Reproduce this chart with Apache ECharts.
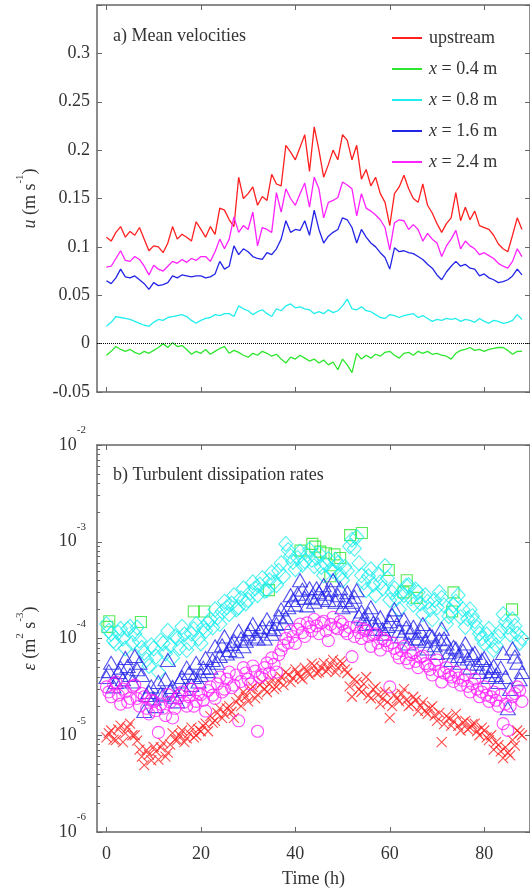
<!DOCTYPE html>
<html>
<head>
<meta charset="utf-8">
<script src="https://cdn.jsdelivr.net/npm/echarts@6/dist/echarts.min.js"></script>
<style>
  html, body { margin: 0; padding: 0; background: #fff; }
  #chart { width: 530px; height: 895px; }
</style>
</head>
<body>
<div id="chart"></div>
<script>
// time axis (h)
var hours = [0,1,2,3,4,5,6,7,8,9,10,11,12,13,14,15,16,17,18,19,20,21,22,23,24,25,26,27,28,29,30,31,32,33,34,35,36,37,38,39,40,41,42,43,44,45,46,47,48,49,50,51,52,53,54,55,56,57,58,59,60,61,62,63,64,65,66,67,68,69,70,71,72,73,74,75,76,77,78,79,80,81,82,83,84,85,86,87,88];
var halfHours = [0.5,1.5,2.5,3.5,4.5,5.5,6.5,7.5,8.5,9.5,10.5,11.5,12.5,13.5,14.5,15.5,16.5,17.5,18.5,19.5,20.5,21.5,22.5,23.5,24.5,25.5,26.5,27.5,28.5,29.5,30.5,31.5,32.5,33.5,34.5,35.5,36.5,37.5,38.5,39.5,40.5,41.5,42.5,43.5,44.5,45.5,46.5,47.5,48.5,49.5,50.5,51.5,52.5,53.5,54.5,55.5,56.5,57.5,58.5,59.5,60.5,61.5,62.5,63.5,64.5,65.5,66.5,67.5,68.5,69.5,70.5,71.5,72.5,73.5,74.5,75.5,76.5,77.5,78.5,79.5,80.5,81.5,82.5,83.5,84.5,85.5,86.5,87.5];
var seriesNames = ['upstream', 'x = 0.4 m', 'x = 0.8 m', 'x = 1.6 m', 'x = 2.4 m'];
var timeTicks = [0, 20, 40, 60, 80];

// a) mean velocities u (m/s)
var uUpstream = [0.110,0.106,0.115,0.121,0.110,0.116,0.112,0.120,0.108,0.096,0.101,0.100,0.094,0.104,0.121,0.108,0.113,0.110,0.106,0.126,0.118,0.110,0.121,0.113,0.140,0.138,0.128,0.121,0.172,0.150,0.155,0.162,0.143,0.152,0.148,0.175,0.165,0.163,0.205,0.198,0.190,0.203,0.216,0.178,0.224,0.200,0.172,0.185,0.200,0.190,0.216,0.210,0.190,0.205,0.170,0.180,0.163,0.172,0.155,0.146,0.122,0.155,0.162,0.174,0.160,0.150,0.146,0.165,0.143,0.135,0.124,0.115,0.124,0.130,0.156,0.127,0.141,0.128,0.137,0.122,0.120,0.118,0.112,0.103,0.098,0.095,0.112,0.130,0.118];
var u04 = [-0.012,-0.008,-0.003,-0.006,-0.008,-0.006,-0.009,-0.011,-0.008,-0.010,-0.007,-0.004,0.000,-0.004,0.001,-0.003,-0.002,-0.006,-0.011,-0.008,-0.010,-0.006,-0.011,-0.008,-0.005,-0.003,-0.010,-0.007,-0.009,-0.012,-0.014,-0.010,-0.012,-0.008,-0.010,-0.013,-0.011,-0.016,-0.020,-0.014,-0.016,-0.012,-0.015,-0.018,-0.016,-0.020,-0.017,-0.022,-0.019,-0.027,-0.016,-0.022,-0.030,-0.010,-0.016,-0.012,-0.015,-0.011,-0.013,-0.009,-0.008,-0.012,-0.015,-0.010,-0.009,-0.012,-0.008,-0.010,-0.008,-0.011,-0.010,-0.012,-0.013,-0.016,-0.010,-0.007,-0.006,-0.004,-0.007,-0.006,-0.008,-0.006,-0.005,-0.004,-0.004,-0.007,-0.011,-0.008,-0.008];
var u08 = [0.018,0.022,0.028,0.027,0.026,0.025,0.023,0.021,0.019,0.018,0.022,0.025,0.024,0.027,0.028,0.029,0.030,0.028,0.024,0.021,0.024,0.026,0.027,0.030,0.029,0.031,0.031,0.028,0.039,0.036,0.034,0.030,0.033,0.035,0.031,0.028,0.036,0.034,0.039,0.041,0.037,0.038,0.036,0.035,0.031,0.033,0.031,0.035,0.032,0.034,0.039,0.046,0.036,0.035,0.038,0.034,0.033,0.030,0.027,0.026,0.030,0.029,0.027,0.029,0.030,0.031,0.027,0.029,0.026,0.023,0.025,0.024,0.026,0.025,0.026,0.023,0.025,0.024,0.022,0.026,0.023,0.021,0.024,0.023,0.021,0.022,0.024,0.030,0.025];
var u16 = [0.065,0.062,0.068,0.077,0.069,0.068,0.070,0.066,0.062,0.056,0.063,0.060,0.061,0.063,0.070,0.068,0.071,0.070,0.069,0.070,0.070,0.068,0.069,0.072,0.085,0.077,0.080,0.101,0.092,0.098,0.095,0.090,0.088,0.087,0.094,0.092,0.098,0.108,0.127,0.115,0.118,0.117,0.127,0.112,0.138,0.118,0.104,0.111,0.115,0.118,0.130,0.128,0.120,0.104,0.118,0.110,0.104,0.100,0.094,0.089,0.077,0.099,0.095,0.096,0.094,0.093,0.090,0.087,0.082,0.078,0.071,0.066,0.074,0.080,0.085,0.080,0.082,0.078,0.077,0.070,0.072,0.068,0.066,0.063,0.064,0.066,0.070,0.077,0.071];
var u24 = [0.079,0.080,0.088,0.096,0.086,0.085,0.090,0.087,0.080,0.071,0.081,0.077,0.075,0.080,0.085,0.083,0.087,0.084,0.088,0.086,0.090,0.090,0.085,0.095,0.108,0.098,0.108,0.131,0.115,0.122,0.118,0.136,0.101,0.120,0.118,0.115,0.156,0.136,0.160,0.150,0.143,0.155,0.166,0.141,0.172,0.160,0.130,0.146,0.148,0.151,0.167,0.164,0.160,0.132,0.155,0.140,0.137,0.133,0.128,0.120,0.097,0.125,0.128,0.127,0.118,0.123,0.118,0.106,0.114,0.108,0.104,0.090,0.101,0.108,0.117,0.098,0.106,0.101,0.098,0.092,0.094,0.091,0.088,0.083,0.080,0.078,0.085,0.098,0.090];
var uTicks = [-0.05, 0, 0.05, 0.1, 0.15, 0.2, 0.25, 0.3];

// b) dissipation rates eps (m2/s3), on the hour and on the half hour
var epsUpstream = [9.5e-6,1.12e-5,8.9e-6,1.26e-5,1.05e-5,1.32e-5,1.0e-5,7.1e-6,4.9e-6,6.3e-6,7.6e-6,5.6e-6,8.3e-6,6.6e-6,1.05e-5,8.9e-6,1.12e-5,9.3e-6,1.2e-5,1.0e-5,1.1e-5,1.32e-5,1.58e-5,1.41e-5,1.9e-5,1.66e-5,2.0e-5,1.51e-5,2.4e-5,2.8e-5,2.24e-5,3.16e-5,2.63e-5,3.55e-5,2.8e-5,3.8e-5,3.16e-5,4.0e-5,4.5e-5,3.55e-5,4.8e-5,4.0e-5,5.0e-5,4.2e-5,5.2e-5,4.5e-5,5.6e-5,4.8e-5,6.0e-5,5.0e-5,5.5e-5,4.4e-5,2.5e-5,3.55e-5,2.8e-5,4.0e-5,2.4e-5,3.16e-5,2.1e-5,2.8e-5,1.51e-5,2.63e-5,2.24e-5,3.0e-5,2.0e-5,2.5e-5,1.78e-5,2.2e-5,1.66e-5,2.0e-5,1.41e-5,8.5e-6,1.58e-5,1.26e-5,1.66e-5,1.12e-5,1.41e-5,1.2e-5,1.32e-5,1.0e-5,1.12e-5,8.9e-6,7.1e-6,7.9e-6,5.8e-6,6.6e-6,8.9e-6,1.12e-5,1.0e-5];
var epsUpstreamHalf = [1.05e-5,9.0e-6,1.15e-5,8.5e-6,1.2e-5,1.0e-5,8.8e-6,6.0e-6,7.0e-6,5.5e-6,6.8e-6,7.5e-6,6.0e-6,8.0e-6,9.0e-6,1.0e-5,8.5e-6,1.05e-5,9.5e-6,1.15e-5,1.25e-5,1.1e-5,1.35e-5,1.7e-5,1.5e-5,1.9e-5,1.75e-5,2.2e-5,2.0e-5,2.5e-5,3.0e-5,2.4e-5,3.3e-5,3.0e-5,3.4e-5,3.0e-5,3.6e-5,3.3e-5,4.2e-5,3.9e-5,4.4e-5,3.8e-5,4.6e-5,5.5e-5,4.4e-5,5.0e-5,4.6e-5,5.4e-5,4.5e-5,5.8e-5,4.8e-5,3.2e-5,3.8e-5,3.0e-5,3.4e-5,2.6e-5,3.0e-5,2.6e-5,2.4e-5,2.2e-5,2.0e-5,2.4e-5,2.7e-5,2.3e-5,2.1e-5,2.3e-5,2.0e-5,1.8e-5,1.9e-5,1.6e-5,1.7e-5,1.3e-5,1.5e-5,1.4e-5,1.25e-5,1.35e-5,1.15e-5,1.3e-5,1.1e-5,1.2e-5,9.5e-6,1.0e-5,8.5e-6,6.8e-6,7.5e-6,6.2e-6,7.8e-6,1.05e-5];
var eps04Time = [0.2,0.6,7.3,18.5,20.7,34.4,41.1,43.6,44.2,45.3,46.5,47.4,48.3,49.5,51.6,54.1,59.8,62.9,63.6,65.7,73.2,73.5,85.9];
var eps04 = [1.32e-4,1.51e-4,1.48e-4,1.9e-4,1.9e-4,3.16e-4,8.1e-4,9.5e-4,8.9e-4,7.9e-4,7.6e-4,4.4e-4,7.4e-4,6.8e-4,1.17e-3,1.23e-3,5.1e-4,3.0e-4,4.0e-4,2.63e-4,1.9e-4,3.0e-4,2.0e-4];
var eps08 = [1.41e-4,1.12e-4,8.9e-5,1.26e-4,7.9e-5,1.32e-4,1.12e-4,9.5e-5,7.1e-5,5.2e-5,7.9e-5,4.5e-5,8.9e-5,1.2e-4,6.3e-5,1.0e-4,1.32e-4,7.6e-5,1.12e-4,1.41e-4,8.9e-5,1.2e-4,1.58e-4,2.0e-4,1.41e-4,2.4e-4,1.78e-4,2.8e-4,2.1e-4,3.3e-4,2.5e-4,3.8e-4,2.8e-4,4.2e-4,3.16e-4,4.8e-4,3.55e-4,6.0e-4,9.5e-4,7.1e-4,5.2e-4,7.9e-4,6.3e-4,8.3e-4,5.6e-4,7.6e-4,4.5e-4,6.6e-4,5.0e-4,6.0e-4,4.0e-4,5.0e-4,1.05e-3,1.12e-3,4.5e-4,3.16e-4,5.2e-4,2.8e-4,3.8e-4,5.6e-4,2.5e-4,3.3e-4,2.0e-4,2.8e-4,3.55e-4,2.24e-4,3.0e-4,1.78e-4,2.4e-4,1.58e-4,2.1e-4,2.63e-4,1.41e-4,1.9e-4,2.4e-4,1.66e-4,1.32e-4,2.0e-4,1.51e-4,1.12e-4,8.9e-5,1.26e-4,7.6e-5,1.05e-4,1.78e-4,1.32e-4,1.58e-4,1.12e-4,1.0e-4];
var eps08Half = [1.2e-4,9.5e-5,1.15e-4,1.0e-4,1.25e-4,9.0e-5,1.3e-4,8.0e-5,6.0e-5,8.5e-5,6.5e-5,9.5e-5,7.0e-5,8.5e-5,1.05e-4,8.0e-5,1.1e-4,9.0e-5,1.25e-4,1.0e-4,1.3e-4,1.45e-4,1.3e-4,1.65e-4,1.9e-4,2.1e-4,2.3e-4,2.0e-4,2.6e-4,2.3e-4,3.0e-4,3.3e-4,3.6e-4,3.1e-4,4.0e-4,3.8e-4,5.0e-4,4.4e-4,8.2e-4,6.2e-4,6.8e-4,5.8e-4,7.3e-4,6.5e-4,6.8e-4,5.5e-4,5.8e-4,5.2e-4,6.5e-4,4.6e-4,5.5e-4,9.0e-4,8.5e-4,6.0e-4,3.8e-4,4.4e-4,3.6e-4,4.6e-4,3.3e-4,4.2e-4,3.0e-4,2.6e-4,3.0e-4,3.5e-4,2.6e-4,3.2e-4,2.3e-4,2.8e-4,2.0e-4,2.5e-4,3.0e-4,2.2e-4,1.7e-4,2.2e-4,2.8e-4,2.0e-4,1.6e-4,1.7e-4,1.3e-4,1.0e-4,1.1e-4,9.5e-5,8.5e-5,1.2e-4,1.5e-4,1.1e-4,1.35e-4,9.0e-5];
var eps16 = [4.0e-5,5.6e-5,3.55e-5,5.0e-5,6.3e-5,4.2e-5,6.6e-5,5.6e-5,1.78e-5,2.8e-5,2.4e-5,3.55e-5,2.63e-5,6.0e-5,3.16e-5,2.24e-5,4.0e-5,5.0e-5,3.3e-5,5.6e-5,4.2e-5,6.3e-5,5.0e-5,8.3e-5,6.6e-5,1.05e-4,7.6e-5,9.5e-5,1.2e-4,8.3e-5,1.12e-4,1.41e-4,1.0e-4,1.32e-4,1.58e-4,1.12e-4,1.41e-4,2.0e-4,1.66e-4,2.8e-4,2.24e-4,4.0e-4,2.63e-4,3.3e-4,2.4e-4,3.0e-4,3.55e-4,2.5e-4,4.0e-4,2.8e-4,2.1e-4,3.0e-4,2.4e-4,3.16e-4,1.9e-4,1.41e-4,2.1e-4,1.26e-4,1.66e-4,1.12e-4,1.51e-4,2.0e-4,1.2e-4,1.58e-4,8.9e-5,1.32e-4,1.0e-4,1.41e-4,7.9e-5,1.05e-4,7.1e-5,1.26e-4,8.9e-5,6.0e-5,7.9e-5,5.6e-5,8.9e-5,5.0e-5,7.1e-5,4.5e-5,6.3e-5,4.0e-5,5.2e-5,3.55e-5,7.1e-5,1.9e-5,7.9e-5,5.6e-5,4.5e-5];
var eps16Half = [4.6e-5,3.2e-5,4.5e-5,3.8e-5,5.2e-5,3.6e-5,4.8e-5,4.2e-5,2.6e-5,3.2e-5,2.0e-5,2.7e-5,3.8e-5,2.9e-5,2.5e-5,3.6e-5,3.0e-5,4.4e-5,4.0e-5,3.6e-5,5.0e-5,4.6e-5,6.0e-5,5.6e-5,8.5e-5,7.0e-5,8.8e-5,7.4e-5,1.0e-4,9.5e-5,1.25e-4,1.05e-4,1.2e-4,1.0e-4,1.3e-4,1.25e-4,1.7e-4,1.45e-4,2.1e-4,2.5e-4,2.9e-4,3.2e-4,2.2e-4,2.7e-4,3.3e-4,2.6e-4,2.9e-4,3.2e-4,2.4e-4,3.3e-4,2.5e-4,2.2e-4,2.7e-4,1.7e-4,1.6e-4,1.8e-4,1.45e-4,1.4e-4,1.25e-4,1.35e-4,1.75e-4,1.4e-4,1.05e-4,1.3e-4,1.15e-4,1.0e-4,1.2e-4,9.5e-5,1.1e-4,8.5e-5,9.8e-5,1.0e-4,7.2e-5,8.2e-5,6.6e-5,7.5e-5,6.2e-5,6.8e-5,5.5e-5,6.0e-5,5.0e-5,4.6e-5,4.2e-5,5.0e-5,4.0e-5,3.0e-5,6.5e-5,3.8e-5];
var eps24 = [3.16e-5,2.5e-5,3.55e-5,2.1e-5,2.8e-5,2.4e-5,3.3e-5,2.0e-5,2.5e-5,1.66e-5,2.24e-5,1.07e-5,1.9e-5,2.63e-5,1.51e-5,2.4e-5,2.8e-5,2.0e-5,3.0e-5,2.24e-5,2.63e-5,1.78e-5,3.16e-5,2.4e-5,4.0e-5,3.0e-5,4.5e-5,3.3e-5,1.41e-5,5.0e-5,3.8e-5,5.2e-5,1.1e-5,4.2e-5,5.6e-5,6.3e-5,4.5e-5,7.6e-5,1.0e-4,1.2e-4,8.9e-5,1.41e-4,1.05e-4,1.32e-4,1.58e-4,1.12e-4,1.51e-4,9.5e-5,1.66e-4,1.26e-4,1.41e-4,1.12e-4,6.5e-5,1.32e-4,1.0e-4,1.2e-4,8.3e-5,1.12e-4,7.6e-5,9.5e-5,3.16e-5,7.9e-5,6.3e-5,8.3e-5,5.6e-5,7.1e-5,5.0e-5,6.6e-5,5.2e-5,4.2e-5,6.0e-5,3.55e-5,5.0e-5,4.0e-5,4.5e-5,3.3e-5,4.2e-5,2.8e-5,3.8e-5,2.5e-5,3.16e-5,2.24e-5,2.8e-5,2.0e-5,1.32e-5,1.12e-5,2.5e-5,3.16e-5,2.24e-5];
var eps24Half = [2.8e-5,3.4e-5,2.6e-5,3.0e-5,2.2e-5,3.2e-5,2.4e-5,2.7e-5,1.9e-5,2.3e-5,1.8e-5,2.1e-5,1.6e-5,2.2e-5,1.9e-5,2.6e-5,2.2e-5,2.5e-5,2.0e-5,2.7e-5,2.3e-5,2.9e-5,2.6e-5,3.4e-5,2.8e-5,3.8e-5,3.1e-5,4.2e-5,3.6e-5,4.4e-5,3.4e-5,4.6e-5,4.0e-5,5.0e-5,4.4e-5,5.4e-5,6.8e-5,8.5e-5,9.0e-5,1.05e-4,1.25e-4,1.15e-4,1.45e-4,1.2e-4,1.35e-4,1.45e-4,1.2e-4,1.4e-4,1.3e-4,1.5e-4,1.2e-4,1.3e-4,1.05e-4,1.15e-4,1.25e-4,1.05e-4,1.1e-4,9.0e-5,1.0e-4,8.5e-5,9.0e-5,7.0e-5,7.5e-5,6.2e-5,6.8e-5,5.8e-5,6.4e-5,5.5e-5,4.8e-5,5.4e-5,4.6e-5,4.4e-5,4.2e-5,3.6e-5,3.9e-5,3.7e-5,3.2e-5,3.4e-5,3.0e-5,2.8e-5,2.6e-5,2.5e-5,2.3e-5,2.6e-5,2.1e-5,2.0e-5,2.7e-5,2.9e-5];
var epsMinorTicks = [2e-6,3e-6,4e-6,5e-6,6e-6,7e-6,8e-6,9e-6,2e-5,3e-5,4e-5,5e-5,6e-5,7e-5,8e-5,9e-5,2e-4,3e-4,4e-4,5e-4,6e-4,7e-4,8e-4,9e-4,2e-3,3e-3,4e-3,5e-3,6e-3,7e-3,8e-3,9e-3];

var colors = ['#ff2020', '#2ee62e', '#22eeee', '#2424e8', '#ff22ff'];
var serif = 'Liberation Serif';
var axisCol = '#666';
var textCol = '#333';

function pairs(xs, ys) {
  return xs.map(function (t, i) { return [t, ys[i]]; });
}

var chart = echarts.init(document.getElementById('chart'));

function timeAxis(grid, pos, labels) {
  var ax = {
    type: 'value', gridIndex: grid, position: pos,
    min: -2, max: 89.7,
    axisLine: { show: true, onZero: false, lineStyle: { color: axisCol, width: 1.5 } },
    axisTick: { show: true, inside: true, length: 5, customValues: timeTicks, lineStyle: { color: axisCol } },
    axisLabel: { show: false },
    splitLine: { show: false }
  };
  if (labels) {
    ax.axisLabel = { show: true, customValues: timeTicks, margin: 13, color: textCol,
      fontFamily: serif, fontSize: 18 };
    ax.name = 'Time (h)';
    ax.nameLocation = 'middle';
    ax.nameGap = 38;
    ax.nameTextStyle = { color: textCol, fontFamily: serif, fontSize: 18 };
  }
  return ax;
}

var supRich = {
  b: { fontFamily: serif, fontSize: 18, color: textCol, lineHeight: 40 },
  s: { fontFamily: serif, fontSize: 11, color: textCol, lineHeight: 11, verticalAlign: 'top' }
};
var nameRich = {
  i: { fontFamily: serif, fontSize: 18, fontStyle: 'italic', color: textCol, lineHeight: 30 },
  n: { fontFamily: serif, fontSize: 18, color: textCol, lineHeight: 30 },
  s: { fontFamily: serif, fontSize: 11, color: textCol, lineHeight: 11, verticalAlign: 'top' }
};

var lineSeries = [uUpstream, u04, u08, u16, u24].map(function (vals, k) {
  var s = {
    name: seriesNames[k], type: 'line', xAxisIndex: 0, yAxisIndex: 0,
    data: pairs(hours, vals), symbol: 'none', showSymbol: false,
    lineStyle: { color: colors[k], width: 1.3 }, itemStyle: { color: colors[k] },
    silent: true, z: 3
  };
  if (k === 1) {
    s.markLine = {
      silent: true, symbol: 'none', label: { show: false },
      lineStyle: { type: 'dotted', color: '#000', width: 1 },
      data: [{ yAxis: 0 }]
    };
  }
  return s;
});

var crossPath = 'path://M0,0L10,10M10,0L0,10';
var scatterDefs = [
  { name: 'eps upstream', x: hours.concat(halfHours), y: epsUpstream.concat(epsUpstreamHalf), sym: crossPath, size: 10, col: colors[0] },
  { name: 'eps 0.4', x: eps04Time, y: eps04, sym: 'rect', size: 11, col: colors[1] },
  { name: 'eps 0.8', x: hours.concat(halfHours), y: eps08.concat(eps08Half), sym: 'diamond', size: [14, 15], col: colors[2] },
  { name: 'eps 1.6', x: hours.concat(halfHours), y: eps16.concat(eps16Half), sym: 'triangle', size: [15, 13], col: colors[3] },
  { name: 'eps 2.4', x: hours.concat(halfHours), y: eps24.concat(eps24Half), sym: 'circle', size: 12, col: colors[4] }
];
var scatterSeries = scatterDefs.map(function (d) {
  return {
    name: d.name, type: 'scatter', xAxisIndex: 2, yAxisIndex: 2,
    data: pairs(d.x, d.y), symbol: d.sym, symbolSize: d.size, silent: true,
    itemStyle: { color: 'transparent', borderColor: d.col, borderWidth: 1.1 }
  };
});

var option = {
  backgroundColor: '#fff',
  animation: false,
  title: [
    { text: 'a) Mean velocities', left: 108, top: 22,
      textStyle: { fontFamily: serif, fontSize: 18, fontWeight: 'normal', color: textCol } },
    { text: 'b) Turbulent dissipation rates', left: 108, top: 461,
      textStyle: { fontFamily: serif, fontSize: 18, fontWeight: 'normal', color: textCol } }
  ],
  legend: {
    data: seriesNames, orient: 'vertical', left: 386, top: 24,
    itemWidth: 30, itemHeight: 14, itemGap: 13,
    itemStyle: { opacity: 0 },
    formatter: function (n) {
      if (n.indexOf('x = ') === 0) return '{i|x}{n|' + n.slice(1) + '}';
      return '{n|' + n + '}';
    },
    textStyle: {
      padding: [0, 0, 0, 2],
      rich: {
        i: { fontFamily: serif, fontSize: 18, fontStyle: 'italic', color: textCol },
        n: { fontFamily: serif, fontSize: 18, color: textCol }
      }
    }
  },
  grid: [
    { left: 97, top: 5, right: 0, height: 387 },
    { left: 97, top: 445, right: 0, height: 387 },
    { left: 97, top: 445, right: 0, height: 387 }
  ],
  xAxis: [
    timeAxis(0, 'bottom', false),
    timeAxis(0, 'top', false),
    timeAxis(1, 'bottom', true),
    timeAxis(1, 'top', false),
    { type: 'value', gridIndex: 2, min: -2, max: 89.7, show: false }
  ],
  yAxis: [
    {
      type: 'value', gridIndex: 0, position: 'left', min: -0.05, max: 0.35, interval: 0.05,
      axisLine: { show: true, onZero: false, lineStyle: { color: axisCol, width: 1.5 } },
      axisTick: { inside: true, length: 5, lineStyle: { color: axisCol } },
      axisLabel: { margin: 7, color: textCol, fontFamily: serif, fontSize: 18,
        customValues: uTicks,
        formatter: function (v) { return String(+v.toFixed(2)); } },
      splitLine: { show: false },
      name: '{i|u}{n| (m s}{s|-1}{n|)}', nameLocation: 'middle', nameGap: 52, nameRotate: 90,
      nameTextStyle: { rich: nameRich }
    },
    {
      type: 'value', gridIndex: 0, position: 'right', min: -0.05, max: 0.35, interval: 0.05,
      axisLine: { show: true, onZero: false, lineStyle: { color: axisCol, width: 1.5 } },
      axisTick: { inside: true, length: 5, lineStyle: { color: axisCol } },
      axisLabel: { show: false }, splitLine: { show: false }
    },
    {
      type: 'log', logBase: 10, gridIndex: 1, position: 'left', min: 1e-6, max: 1e-2,
      axisLine: { show: true, onZero: false, lineStyle: { color: axisCol, width: 1.5 } },
      axisTick: { inside: true, length: 5, lineStyle: { color: axisCol } },
      axisLabel: { margin: 11, formatter: function (v) {
          return '{b|10}{s|' + Math.round(Math.log10(v)) + '}';
        }, rich: supRich },
      splitLine: { show: false },
      name: '{i|ε}{n| (m}{s|2}{n| s}{s|-3}{n|)}', nameLocation: 'middle', nameGap: 52, nameRotate: 90,
      nameTextStyle: { rich: nameRich }
    },
    {
      type: 'log', logBase: 10, gridIndex: 1, position: 'right', min: 1e-6, max: 1e-2,
      axisLine: { show: true, onZero: false, lineStyle: { color: axisCol, width: 1.5 } },
      axisTick: { inside: true, length: 5, lineStyle: { color: axisCol } },
      axisLabel: { show: false }, splitLine: { show: false }
    },
    {
      // minor decade ticks on the left edge of panel b
      type: 'log', logBase: 10, gridIndex: 2, position: 'left', min: 1e-6, max: 1e-2,
      axisLine: { show: false, onZero: false },
      axisTick: { inside: true, length: 3, customValues: epsMinorTicks, lineStyle: { color: axisCol } },
      axisLabel: { show: false }, splitLine: { show: false }
    }
  ],
  series: lineSeries.concat(scatterSeries)
};

chart.setOption(option);
</script>
</body>
</html>
